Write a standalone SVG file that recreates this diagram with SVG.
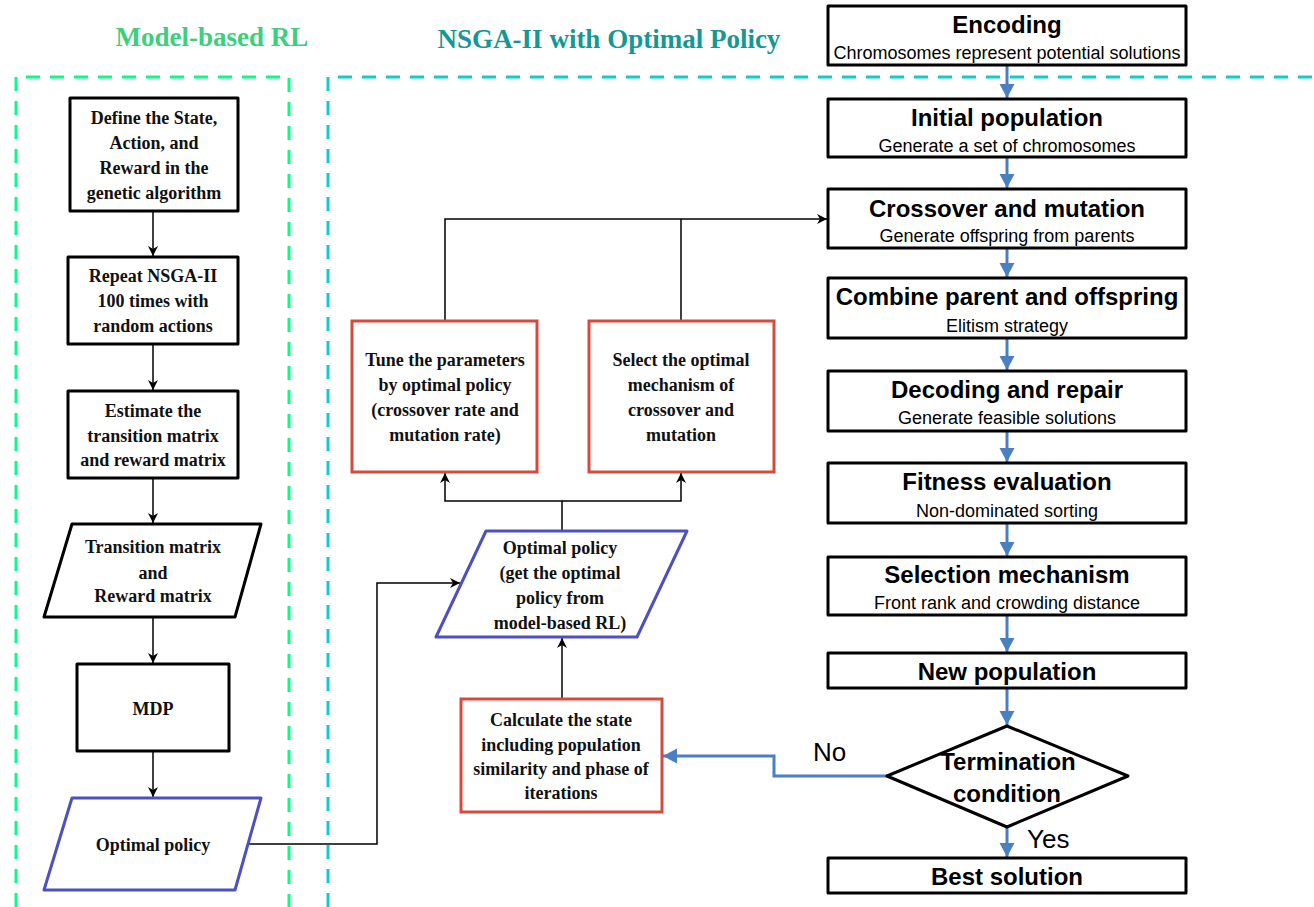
<svg xmlns="http://www.w3.org/2000/svg" width="1314" height="907" viewBox="0 0 1314 907">
  <style>
    .serif { font-family: "Liberation Serif", "Times New Roman", serif; font-weight: bold; font-size: 18px; fill: #111; text-anchor: middle; }
    .ttl { font-family: "Liberation Serif", "Times New Roman", serif; font-weight: bold; font-size: 27px; text-anchor: middle; }
    .head { font-family: "Liberation Sans", Arial, sans-serif; font-weight: bold; font-size: 24px; fill: #000; text-anchor: middle; }
    .sub { font-family: "Liberation Sans", Arial, sans-serif; font-size: 18px; fill: #000; text-anchor: middle; }
    .lbl { font-family: "Liberation Sans", Arial, sans-serif; font-size: 26px; fill: #000; }
    .box { fill: #fff; stroke: #000; stroke-width: 3; stroke-linejoin: round; }
    .red { fill: #fff; stroke: #d64a3e; stroke-width: 3; }
    .blue { fill: #fff; stroke: #4f50bf; stroke-width: 3; stroke-linejoin: round; }
    .conn { fill: none; stroke: #000; stroke-width: 1.5; }
    .flow { fill: none; stroke: #4a7fc1; stroke-width: 3; }
  </style>
  <defs>
    <marker id="arrow" markerUnits="userSpaceOnUse" markerWidth="10" markerHeight="10" refX="10" refY="5" orient="auto">
      <path d="M0,0 L10,5 L0,10 L3,5 z" fill="#000"/>
    </marker>
    <marker id="flowArrow" markerUnits="userSpaceOnUse" markerWidth="16" markerHeight="16" refX="14" refY="7.5" orient="auto">
      <path d="M0,0 L14,7.5 L0,15 z" fill="#4a7fc1"/>
    </marker>
  </defs>

  <rect width="1314" height="907" fill="#fff"/>

  <!-- section frames -->
  <g id="frames" fill="none" stroke-width="3">
    <path d="M16,907 L16,77 L289,77 L289,907" stroke="#0dfa84" stroke-dasharray="14 10"/>
    <path d="M328,907 L328,77 L1314,77" stroke="#12cccc" stroke-dasharray="14 10"/>
  </g>
  <text class="ttl" x="212" y="46" fill="#3ccf7d">Model-based RL</text>
  <text class="ttl" x="609" y="48" fill="#139896">NSGA-II with Optimal Policy</text>

  <!-- connectors -->
  <g id="connectors">
    <line class="conn" x1="153" y1="211" x2="153" y2="256" marker-end="url(#arrow)"/>
    <line class="conn" x1="153" y1="344" x2="153" y2="390" marker-end="url(#arrow)"/>
    <line class="conn" x1="153" y1="478" x2="153" y2="523" marker-end="url(#arrow)"/>
    <line class="conn" x1="153" y1="617" x2="153" y2="663" marker-end="url(#arrow)"/>
    <line class="conn" x1="153" y1="751" x2="153" y2="797" marker-end="url(#arrow)"/>
    <polyline class="conn" points="248,844 377,844 377,583 460,583" marker-end="url(#arrow)"/>
    <line class="conn" x1="562" y1="699" x2="562" y2="638" marker-end="url(#arrow)"/>
    <polyline class="conn" points="562,531 562,501 445,501 445,473" marker-end="url(#arrow)"/>
    <polyline class="conn" points="562,501 681,501 681,473" marker-end="url(#arrow)"/>
    <polyline class="conn" points="445,321 445,219 827,219" marker-end="url(#arrow)"/>
    <line class="conn" x1="681" y1="321" x2="681" y2="219"/>

    <line class="flow" x1="1007" y1="65" x2="1007" y2="98" marker-end="url(#flowArrow)"/>
    <line class="flow" x1="1007" y1="157" x2="1007" y2="188" marker-end="url(#flowArrow)"/>
    <line class="flow" x1="1007" y1="248" x2="1007" y2="277" marker-end="url(#flowArrow)"/>
    <line class="flow" x1="1007" y1="338" x2="1007" y2="370" marker-end="url(#flowArrow)"/>
    <line class="flow" x1="1007" y1="431" x2="1007" y2="462" marker-end="url(#flowArrow)"/>
    <line class="flow" x1="1007" y1="523" x2="1007" y2="556" marker-end="url(#flowArrow)"/>
    <line class="flow" x1="1007" y1="615" x2="1007" y2="652" marker-end="url(#flowArrow)"/>
    <line class="flow" x1="1007" y1="688" x2="1007" y2="725" marker-end="url(#flowArrow)"/>
    <line class="flow" x1="1007" y1="827" x2="1007" y2="857" marker-end="url(#flowArrow)"/>
    <polyline class="flow" points="887,776 774,776 774,756 663,756" marker-end="url(#flowArrow)"/>
    <text class="lbl" x="813" y="761">No</text>
    <text class="lbl" x="1027" y="848">Yes</text>
  </g>

  <!-- model-based RL column -->
  <g id="define">
    <rect class="box" x="70" y="98" width="168" height="113"/>
    <text class="serif" x="154" y="124">Define the State,</text>
    <text class="serif" x="154" y="149">Action, and</text>
    <text class="serif" x="154" y="174">Reward in the</text>
    <text class="serif" x="154" y="199">genetic algorithm</text>
  </g>
  <g id="repeat">
    <rect class="box" x="68" y="257" width="170" height="87"/>
    <text class="serif" x="153" y="282">Repeat NSGA-II</text>
    <text class="serif" x="153" y="307">100 times with</text>
    <text class="serif" x="153" y="332">random actions</text>
  </g>
  <g id="estimate">
    <rect class="box" x="68" y="391" width="170" height="87"/>
    <text class="serif" x="153" y="417">Estimate the</text>
    <text class="serif" x="153" y="442">transition matrix</text>
    <text class="serif" x="153" y="466">and reward matrix</text>
  </g>
  <g id="matrices">
    <polygon class="box" points="72,524 261,524 235,617 44,617"/>
    <text class="serif" x="153" y="553">Transition matrix</text>
    <text class="serif" x="153" y="579">and</text>
    <text class="serif" x="153" y="602">Reward matrix</text>
  </g>
  <g id="mdp">
    <rect class="box" x="77" y="664" width="152" height="87"/>
    <text class="serif" x="153" y="715">MDP</text>
  </g>
  <g id="policy-rl">
    <polygon class="blue" points="72,798 261,798 235,890 44,890"/>
    <text class="serif" x="153" y="851">Optimal policy</text>
  </g>

  <!-- policy-driven operators -->
  <g id="tune">
    <rect class="red" x="352" y="321" width="185" height="151"/>
    <text class="serif" x="445" y="366">Tune the parameters</text>
    <text class="serif" x="445" y="391">by optimal policy</text>
    <text class="serif" x="445" y="416">(crossover rate and</text>
    <text class="serif" x="445" y="441">mutation rate)</text>
  </g>
  <g id="select">
    <rect class="red" x="589" y="321" width="185" height="151"/>
    <text class="serif" x="681" y="366">Select the optimal</text>
    <text class="serif" x="681" y="391">mechanism of</text>
    <text class="serif" x="681" y="416">crossover and</text>
    <text class="serif" x="681" y="441">mutation</text>
  </g>
  <g id="policy-ga">
    <polygon class="blue" points="486,531 687,531 637,637 436,637"/>
    <text class="serif" x="560" y="554">Optimal policy</text>
    <text class="serif" x="560" y="579">(get the optimal</text>
    <text class="serif" x="560" y="604">policy from</text>
    <text class="serif" x="560" y="629">model-based RL)</text>
  </g>
  <g id="state">
    <rect class="red" x="461" y="699" width="201" height="113"/>
    <text class="serif" x="561" y="726">Calculate the state</text>
    <text class="serif" x="561" y="751">including population</text>
    <text class="serif" x="561" y="775">similarity and phase of</text>
    <text class="serif" x="561" y="799">iterations</text>
  </g>

  <!-- NSGA-II main loop -->
  <g id="encoding">
    <rect class="box" x="828" y="6" width="358" height="59"/>
    <text class="head" x="1007" y="33">Encoding</text>
    <text class="sub" x="1007" y="59">Chromosomes represent potential solutions</text>
  </g>
  <g id="initial">
    <rect class="box" x="828" y="99" width="358" height="58"/>
    <text class="head" x="1007" y="126">Initial population</text>
    <text class="sub" x="1007" y="152">Generate a set of chromosomes</text>
  </g>
  <g id="crossover">
    <rect class="box" x="828" y="189" width="358" height="59"/>
    <text class="head" x="1007" y="217">Crossover and mutation</text>
    <text class="sub" x="1007" y="242">Generate offspring from parents</text>
  </g>
  <g id="combine">
    <rect class="box" x="828" y="278" width="358" height="60"/>
    <text class="head" x="1007" y="305">Combine parent and offspring</text>
    <text class="sub" x="1007" y="332">Elitism strategy</text>
  </g>
  <g id="decoding">
    <rect class="box" x="828" y="371" width="358" height="60"/>
    <text class="head" x="1007" y="398">Decoding and repair</text>
    <text class="sub" x="1007" y="424">Generate feasible solutions</text>
  </g>
  <g id="fitness">
    <rect class="box" x="828" y="463" width="358" height="60"/>
    <text class="head" x="1007" y="490">Fitness evaluation</text>
    <text class="sub" x="1007" y="517">Non-dominated sorting</text>
  </g>
  <g id="selection">
    <rect class="box" x="828" y="557" width="358" height="58"/>
    <text class="head" x="1007" y="583">Selection mechanism</text>
    <text class="sub" x="1007" y="609">Front rank and crowding distance</text>
  </g>
  <g id="newpop">
    <rect class="box" x="828" y="653" width="358" height="35"/>
    <text class="head" x="1007" y="680">New population</text>
  </g>
  <g id="termination">
    <polygon class="box" points="1007,726 1128,776 1007,827 887,776"/>
    <text class="head" x="1008" y="770">Termination</text>
    <text class="head" x="1007" y="802">condition</text>
  </g>
  <g id="best">
    <rect class="box" x="828" y="858" width="358" height="35"/>
    <text class="head" x="1007" y="885">Best solution</text>
  </g>
</svg>
